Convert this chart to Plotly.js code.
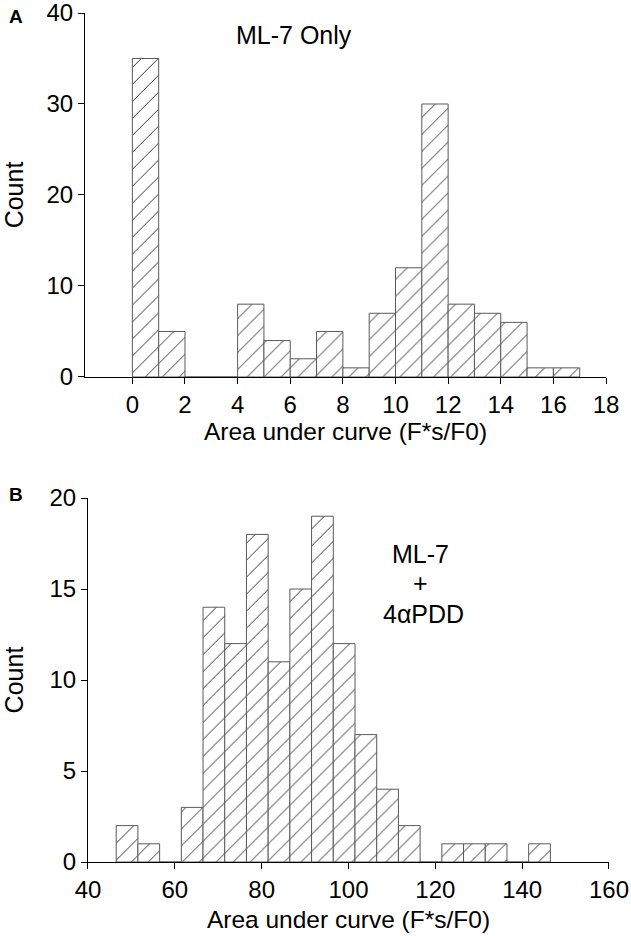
<!DOCTYPE html>
<html>
<head>
<meta charset="utf-8">
<script src="https://cdn.plot.ly/plotly-3.0.1.min.js"></script>
<style>html,body{margin:0;padding:0;background:#fff}#chart{width:631px;height:936px}</style>
</head>
<body>
<div id="chart"></div>
<script>
// Panel A: ML-7 only (bin width 1)
const binsA = [0.5,1.5,2.5,3.5,4.5,5.5,6.5,7.5,8.5,9.5,10.5,11.5,12.5,13.5,14.5,15.5,16.5];
const countsA = [35,5,0,0,8,4,2,5,1,7,12,30,8,7,6,1,1];
const ticksA = [0,2,4,6,8,10,12,14,16,18];

// Panel B: ML-7 + 4αPDD (bin width 5)
const binsB = [49,54,59,64,69,74,79,84,89,94,99,104,109,114,119,124,129,134,139,144];
const countsB = [2,1,0,3,14,12,18,11,15,19,12,7,4,2,0,1,1,1,0,1];
const ticksB = [40,60,80,100,120,140,160];

const xTitle = 'Area under curve (F*s/F0)';
const yTitle = 'Count';

const FONT = 'Liberation Sans, Arial, sans-serif';
const pattern = {shape:'/', fgcolor:'#111', bgcolor:'#fff', size:12, solidity:0.07};
const barStyle = {color:'#fff', line:{color:'#5a5a5a', width:1}, pattern:pattern};

const traces = [
  {type:'bar', x:binsA, y:countsA, width:1, marker:barStyle, xaxis:'x', yaxis:'y', hoverinfo:'x+y'},
  {type:'bar', x:binsB, y:countsB, width:5, marker:barStyle, xaxis:'x2', yaxis:'y2', hoverinfo:'x+y'}
];

const axisCommon = {
  showgrid:false, zeroline:false, showline:true, linecolor:'#000', linewidth:1,
  ticks:'outside', ticklen:6, tickcolor:'#000', tickwidth:1,
  ticklabeloverflow:'allow',
  tickfont:{family:FONT, size:24, color:'#000'}
};

const layout = {
  width:631, height:936,
  margin:{l:85, r:22, t:13, b:74},
  paper_bgcolor:'#fff', plot_bgcolor:'#fff',
  showlegend:false, bargap:0,
  font:{family:FONT, color:'#000'},
  xaxis: Object.assign({}, axisCommon, {
    domain:[0, 0.9943], range:[-1.8, 18], tickvals:ticksA, anchor:'y',
    title:{text:xTitle, font:{family:FONT, size:24.5, color:'#000'}, standoff:1}
  }),
  yaxis: Object.assign({}, axisCommon, {
    domain:[0.5713, 1], range:[0, 40], tickvals:[0,10,20,30,40], anchor:'x',
    title:{text:yTitle, font:{family:FONT, size:25, color:'#000'}, standoff:20}
  }),
  xaxis2: Object.assign({}, axisCommon, {
    domain:[0.0057, 1], range:[40, 160], tickvals:ticksB, anchor:'y2',
    title:{text:xTitle, font:{family:FONT, size:24.5, color:'#000'}, standoff:9}
  }),
  yaxis2: Object.assign({}, axisCommon, {
    domain:[0, 0.4287], range:[0, 20], tickvals:[0,5,10,15,20], anchor:'x2',
    title:{text:yTitle, font:{family:FONT, size:25, color:'#000'}, standoff:20}
  }),
  annotations:[
    {text:'<b>A</b>', xref:'paper', yref:'paper', x:-0.1326, y:0.9959, xanchor:'center', yanchor:'middle', showarrow:false, font:{family:FONT, size:19, color:'#000'}},
    {text:'<b>B</b>', xref:'paper', yref:'paper', x:-0.1326, y:0.4323, xanchor:'center', yanchor:'middle', showarrow:false, font:{family:FONT, size:19, color:'#000'}},
    {text:'ML-7 Only', xref:'x', yref:'y', x:6.13, y:37.6, xanchor:'center', yanchor:'middle', showarrow:false, font:{family:FONT, size:25, color:'#000'}},
    {text:'ML-7', xref:'x2', yref:'y2', x:116.5, y:16.95, xanchor:'center', yanchor:'middle', showarrow:false, font:{family:FONT, size:25, color:'#000'}},
    {text:'+', xref:'x2', yref:'y2', x:116.5, y:15.35, xanchor:'center', yanchor:'middle', showarrow:false, font:{family:FONT, size:25, color:'#000'}},
    {text:'4αPDD', xref:'x2', yref:'y2', x:117.2, y:13.65, xanchor:'center', yanchor:'middle', showarrow:false, font:{family:FONT, size:25, color:'#000'}}
  ]
};

Plotly.newPlot('chart', traces, layout, {displayModeBar:false, staticPlot:true});
</script>
</body>
</html>
